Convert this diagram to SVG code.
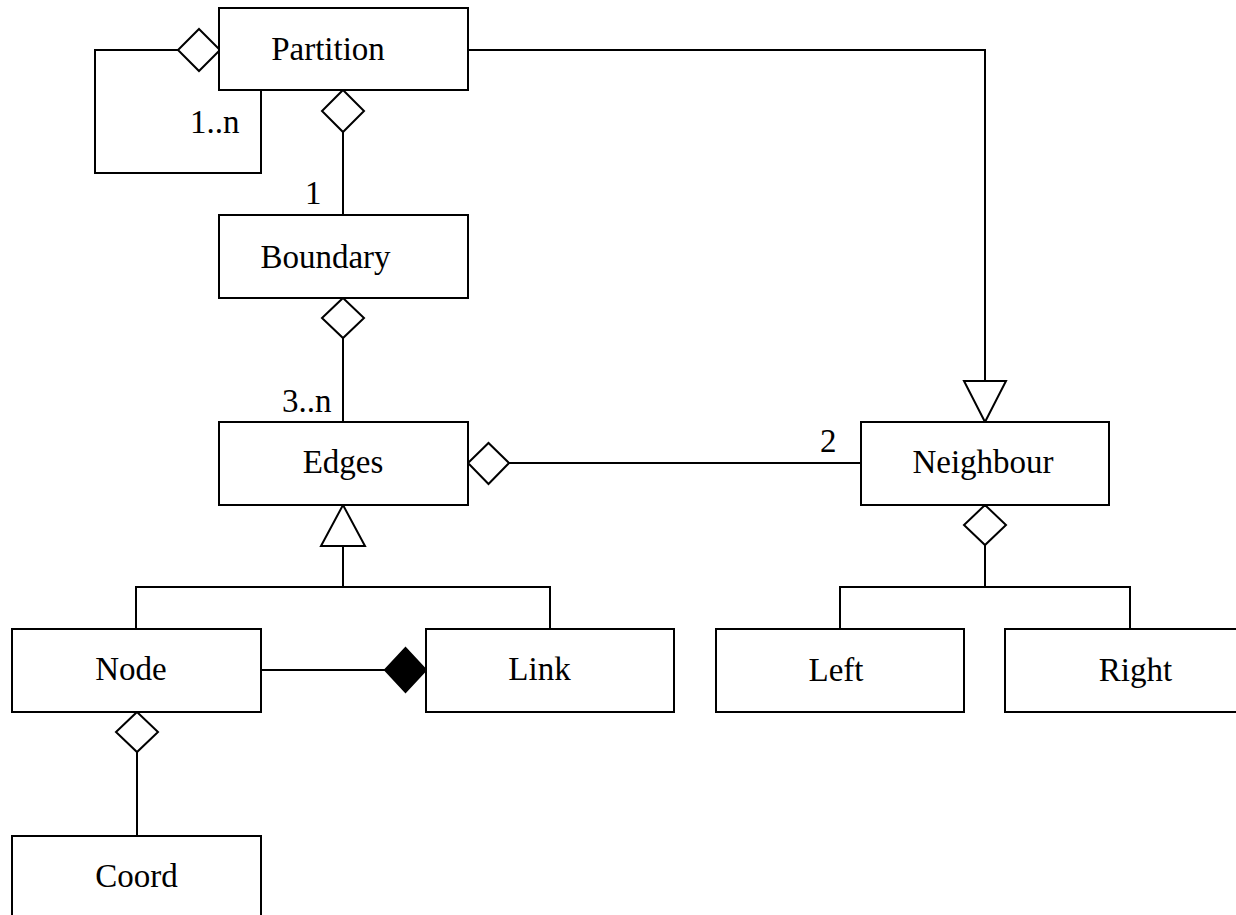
<svg xmlns="http://www.w3.org/2000/svg" width="1236" height="915" viewBox="0 0 1236 915">
<style>
.box{fill:#fff;stroke:#000;stroke-width:2}
.ln{fill:none;stroke:#000;stroke-width:2}
.od{fill:#fff;stroke:#000;stroke-width:2}
.fd{fill:#000;stroke:#000;stroke-width:2}
text{font-family:"Liberation Serif","Times New Roman",serif;font-size:33px;fill:#000}
.c{text-anchor:middle}
</style>
<rect width="1236" height="915" fill="#fff"/>
<g id="connectors">
<polyline class="ln" points="178,50 95,50 95,173 261,173 261,90"/>
<line class="ln" x1="343" y1="132" x2="343" y2="215"/>
<line class="ln" x1="343" y1="338" x2="343" y2="422"/>
<line class="ln" x1="509" y1="463" x2="861" y2="463"/>
<polyline class="ln" points="468,50 985,50 985,381"/>
<polyline class="ln" points="343,546 343,587"/>
<polyline class="ln" points="136,629 136,587 550,587 550,629"/>
<line class="ln" x1="261" y1="670" x2="385" y2="670"/>
<line class="ln" x1="985" y1="545" x2="985" y2="587"/>
<polyline class="ln" points="840,629 840,587 1130,587 1130,629"/>
<line class="ln" x1="137" y1="752" x2="137" y2="836"/>
<polygon class="od" points="199,29 220,50 199,71 178,50"/>
<polygon class="od" points="343,90 364,111 343,132 322,111"/>
<polygon class="od" points="343,298 364,318 343,338 322,318"/>
<polygon class="od" points="468,463 488.5,443 509,463 488.5,484"/>
<polygon class="od" points="343,505 365,546 321,546"/>
<polygon class="od" points="964,381 1006,381 985,422"/>
<polygon class="od" points="985,505 1006,525 985,545 964,525"/>
<polygon class="fd" points="385,670 405.5,648 426,670 405.5,692"/>
<polygon class="od" points="137,712 158,732 137,752 116,732"/>
<text x="190" y="133">1..n</text>
<text x="305" y="204">1</text>
<text x="282" y="412">3..n</text>
<text x="820" y="452">2</text>
</g>
<g id="partition"><rect class="box" x="219" y="8" width="249" height="82"/><text class="c" x="328" y="60">Partition</text></g>
<g id="boundary"><rect class="box" x="219" y="215" width="249" height="83"/><text class="c" x="325.5" y="268">Boundary</text></g>
<g id="edges"><rect class="box" x="219" y="422" width="249" height="83"/><text class="c" x="343" y="473">Edges</text></g>
<g id="neighbour"><rect class="box" x="861" y="422" width="248" height="83"/><text class="c" x="983" y="473">Neighbour</text></g>
<g id="node"><rect class="box" x="12" y="629" width="249" height="83"/><text class="c" x="131" y="680">Node</text></g>
<g id="link"><rect class="box" x="426" y="629" width="248" height="83"/><text class="c" x="539.5" y="680">Link</text></g>
<g id="left"><rect class="box" x="716" y="629" width="248" height="83"/><text class="c" x="836" y="681">Left</text></g>
<g id="right"><rect class="box" x="1005" y="629" width="260" height="83"/><text class="c" x="1135.5" y="681">Right</text></g>
<g id="coord"><rect class="box" x="12" y="836" width="249" height="100"/><text class="c" x="136.5" y="887">Coord</text></g>
</svg>
